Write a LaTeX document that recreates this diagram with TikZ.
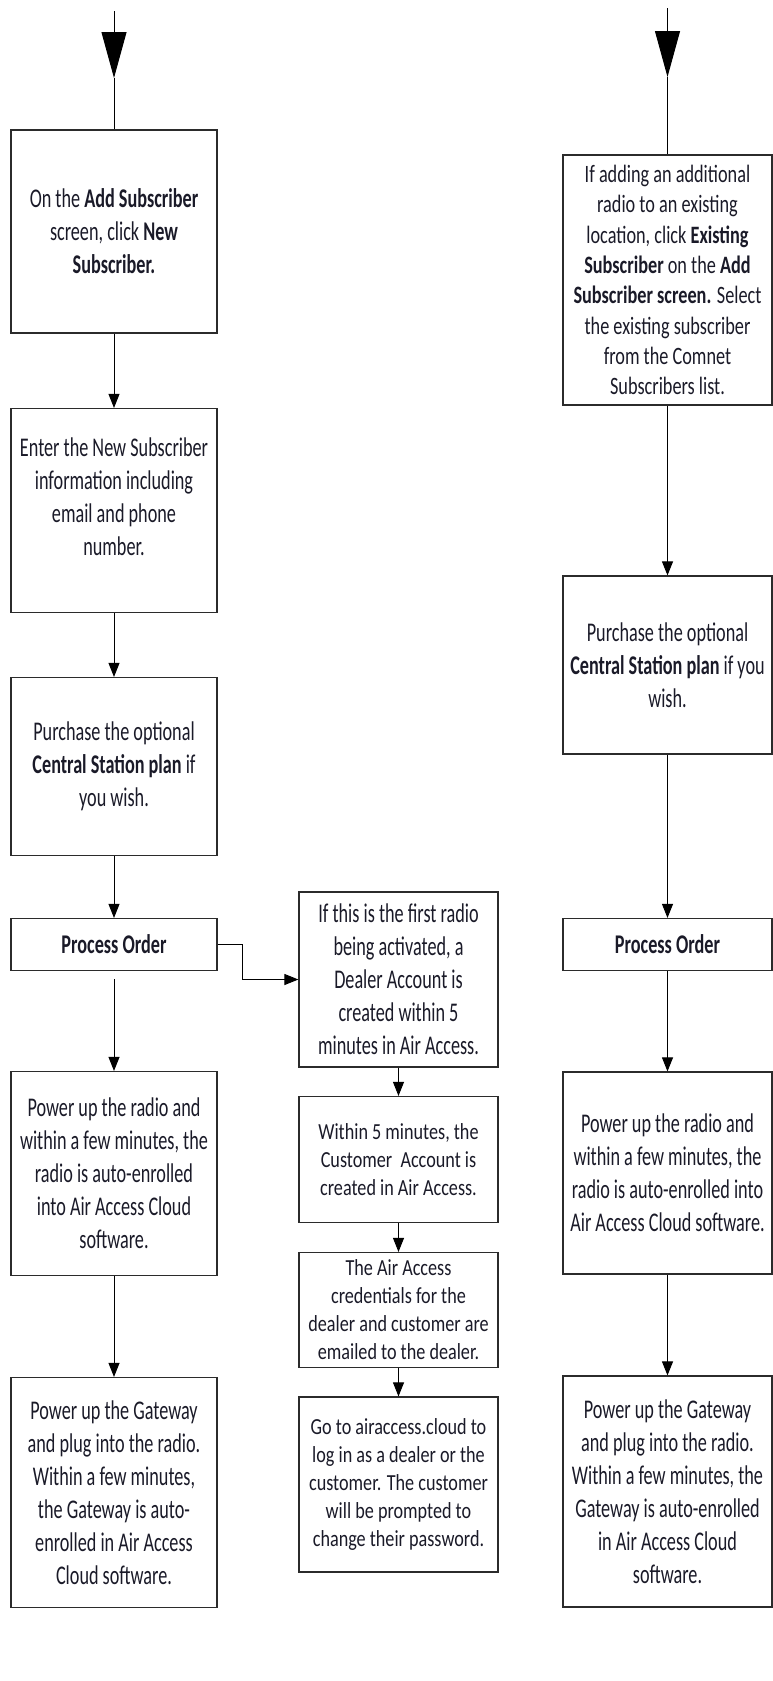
\documentclass[tikz,border=0pt]{standalone}
\usepackage{fontspec}
\setmainfont{Carlito}
\newfontfamily\lfont{Carlito}[FakeStretch=0.674]
\newfontfamily\mfont{Carlito}[FakeStretch=0.79]
\newfontfamily\rfont{Carlito}[FakeStretch=0.73]
\usetikzlibrary{arrows.meta}
\definecolor{boxgray}{HTML}{2B2B2B}
\definecolor{txt}{HTML}{1A1A28}
\begin{document}
\begin{tikzpicture}[x=1pt,y=-1pt,
  stepbox/.style={draw=boxgray,line width=1.2pt,inner sep=0pt,align=center,text=txt},
  bigf/.style={font=\lfont\fontsize{27}{33}\selectfont},
  midf/.style={font=\mfont\fontsize{23}{28}\selectfont},
  ronef/.style={font=\rfont\fontsize{25}{30.3}\selectfont},
  lbox/.style={stepbox,bigf,minimum width=206pt},
  mbox/.style={stepbox,midf,minimum width=199pt},
  rbox/.style={stepbox,bigf,minimum width=209pt},
  flow/.style={line width=1pt,-{Triangle[length=14pt,width=11pt]}},
  bigtip/.style={line width=1pt,-{Triangle[length=46pt,width=25pt]}},
  plain/.style={line width=1pt}
]
\useasboundingbox (0,0) rectangle (773,1681);

% left column
\node[lbox,minimum height=203pt] (b1) at (114,231.5)
  {On the \textbf{Add Subscriber}\\ screen, click \textbf{New}\\ \textbf{Subscriber.}};
\node[lbox,minimum height=204pt] (b2) at (114,510.5)
  {Enter the New Subscriber\\ information including\\ email and phone\\ number.\rule[-28pt]{0pt}{28pt}};
\node[lbox,minimum height=178pt] (b3) at (114,766.5)
  {Purchase the optional\\ \textbf{Central Station plan} if\\ you wish.};
\node[lbox,minimum height=52pt] (b4) at (114,944.5) {\textbf{Process Order}};
\node[lbox,minimum height=204pt] (b5) at (114,1173.5)
  {Power up the radio and\\ within a few minutes, the\\ radio is auto-enrolled\\ into Air Access Cloud\\ software.};
\node[lbox,minimum height=230pt] (b6) at (114,1492.5)
  {Power up the Gateway\\ and plug into the radio.\\ Within a few minutes,\\ the Gateway is auto-\\ enrolled in Air Access\\ Cloud software.};

% middle column
\node[stepbox,bigf,minimum width=199pt,minimum height=175pt] (m1) at (398.5,979.5)
  {If this is the first radio\\ being activated, a\\ Dealer Account is\\ created within 5\\ minutes in Air Access.};
\node[mbox,minimum height=126pt] (m2) at (398.5,1159.5)
  {Within 5 minutes, the\\ Customer\ \ Account is\\ created in Air Access.};
\node[mbox,minimum height=115pt] (m3) at (398.5,1310)
  {The Air Access\\ credentials for the\\ dealer and customer are\\ emailed to the dealer.};
\node[mbox,minimum height=175pt] (m4) at (398.5,1484.5)
  {Go to airaccess.cloud to\\ log in as a dealer or the\\ customer. The customer\\ will be prompted to\\ change their password.};

% right column
\node[stepbox,ronef,minimum width=209pt,minimum height=250pt] (r1) at (667.5,280)
  {If adding an additional\\ radio to an existing\\ location, click \textbf{Existing}\\ \textbf{Subscriber} on the \textbf{Add}\\ \textbf{Subscriber screen.} Select\\ the existing subscriber\\ from the Comnet\\ Subscribers list.};
\node[rbox,minimum height=178pt] (r2) at (667.5,665)
  {Purchase the optional\\ \textbf{Central Station plan} if you\\ wish.};
\node[rbox,minimum height=52pt] (r3) at (667.5,944.5) {\textbf{Process Order}};
\node[rbox,minimum height=202pt] (r4) at (667.5,1173)
  {Power up the radio and\\ within a few minutes, the\\ radio is auto-enrolled into\\ Air Access Cloud software.};
\node[rbox,minimum height=231pt] (r5) at (667.5,1491.5)
  {Power up the Gateway\\ and plug into the radio.\\ Within a few minutes, the\\ Gateway is auto-enrolled\\ in Air Access Cloud\\ software.};

% entry arrows
\coordinate (ls) at (114,11);
\coordinate (lt) at (114,78);
\draw[bigtip] (ls) -- (lt);
\draw[plain] (lt) -- (b1.north);
\coordinate (rs) at (667.5,8);
\coordinate (rt) at (667.5,77);
\draw[bigtip] (rs) -- (rt);
\draw[plain] (rt) -- (r1.north);

% left connectors
\draw[flow] (b1.south) -- (b2.north);
\draw[flow] (b2.south) -- (b3.north);
\draw[flow] (b3.south) -- (b4.north);
\draw[flow] ([yshift=-8pt]b4.south) -- (b5.north);
\draw[flow] (b5.south) -- (b6.north);
\draw[flow] (b4.east) -- ++(25,0) |- (m1.west);

% middle connectors
\draw[flow] (m1.south) -- (m2.north);
\draw[flow] (m2.south) -- (m3.north);
\draw[flow] (m3.south) -- (m4.north);

% right connectors
\draw[flow] (r1.south) -- (r2.north);
\draw[flow] (r2.south) -- (r3.north);
\draw[flow] (r3.south) -- (r4.north);
\draw[flow] (r4.south) -- (r5.north);
\end{tikzpicture}
\end{document}
